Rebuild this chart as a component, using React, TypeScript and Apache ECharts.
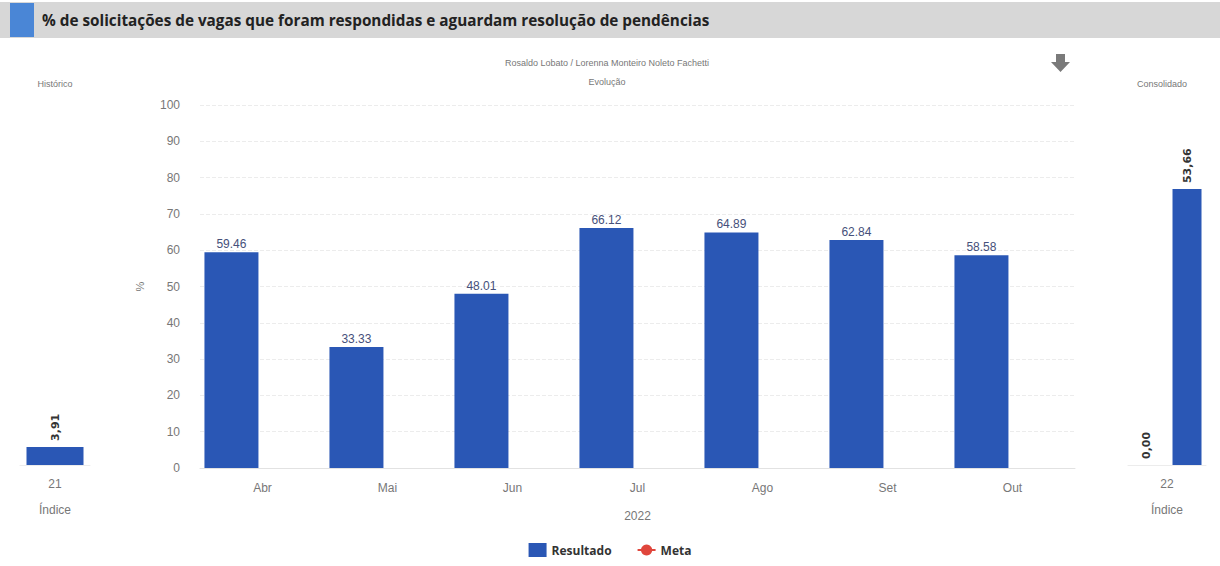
import React, { useEffect, useRef } from "react";
import * as echarts from "echarts";

const titleText = "% de solicitações de vagas que foram respondidas e aguardam resolução de pendências";
const subtitleText = "Rosaldo Lobato / Lorenna Monteiro Noleto Fachetti";
const months = ["Abr", "Mai", "Jun", "Jul", "Ago", "Set", "Out"];
const resultado = [59.46, 33.33, 48.01, 66.12, 64.89, 62.84, 58.58];
const meta: (number | null)[] = [null, null, null, null, null, null, null];
const yearLabel = "2022";
const histCategories = ["21"];
const histValues = [3.91];
const consCategories = ["22"];
const consMeta = [0];
const consValues = [53.66];

const BLUE = "#2a57b5";
const RED = "#e0463c";

export default function App() {
  const ref = useRef<HTMLDivElement>(null);
  useEffect(() => {
    if (!ref.current) return;
    const chart = echarts.init(ref.current, undefined, { renderer: "svg" });
    const sideLabel = {
      show: true,
      position: "top" as const,
      rotate: 90,
      align: "left" as const,
      verticalAlign: "middle" as const,
      distance: 6,
      color: "#333",
      fontSize: 11,
      fontWeight: "bold" as const,
      fontFamily: "DejaVu Sans",
      formatter: (p: any) => Number(p.value).toFixed(2).replace(".", ","),
    };
    const sideXAxis = (gridIndex: number, data: string[]) => ({
      type: "category" as const,
      gridIndex,
      data,
      axisLine: { show: true, lineStyle: { color: "#ececec" } },
      axisTick: { show: false },
      axisLabel: { color: "#777", fontSize: 12, margin: 13, fontFamily: "Liberation Sans" },
      name: "Índice",
      nameLocation: "middle" as const,
      nameGap: 39,
      nameTextStyle: { color: "#777", fontSize: 12, fontFamily: "Liberation Sans" },
    });
    chart.setOption({
      animation: false,
      textStyle: { fontFamily: "Liberation Sans" },
      graphic: [
        { type: "rect", shape: { x: 0, y: 2, width: 1220, height: 36 }, style: { fill: "#d7d7d7" } },
        { type: "rect", shape: { x: 10, y: 3, width: 24, height: 34 }, style: { fill: "#4a86d6" } },
        {
          type: "text", x: 42, y: 20,
          style: { text: titleText, fontSize: 15.3, fontWeight: "bold", fontFamily: "Open Sans", fill: "#222", verticalAlign: "middle" },
        },
        {
          type: "text", x: 607, y: 63,
          style: { text: subtitleText, fontSize: 9, fill: "#777", align: "center", verticalAlign: "middle", fontFamily: "Liberation Sans" },
        },
        {
          type: "text", x: 607, y: 82,
          style: { text: "Evolução", fontSize: 9, fill: "#777", align: "center", verticalAlign: "middle", fontFamily: "Liberation Sans" },
        },
        {
          type: "text", x: 55, y: 84,
          style: { text: "Histórico", fontSize: 9, fill: "#777", align: "center", verticalAlign: "middle", fontFamily: "Liberation Sans" },
        },
        {
          type: "text", x: 1162, y: 84,
          style: { text: "Consolidado", fontSize: 9, fill: "#777", align: "center", verticalAlign: "middle", fontFamily: "Liberation Sans" },
        },
        {
          type: "polygon",
          shape: { points: [[1056, 54], [1065, 54], [1065, 62], [1070, 62], [1060.5, 72], [1051, 62], [1056, 62]] },
          style: { fill: "#7a7a7a" },
        },
      ],
      legend: {
        data: [
          { name: "Resultado", icon: "rect", itemStyle: { color: BLUE } },
          { name: "Meta" },
        ],
        left: "center",
        top: 538,
        itemWidth: 18,
        itemHeight: 14,
        itemGap: 25,
        textStyle: { color: "#333", fontSize: 12, fontWeight: "bold", fontFamily: "Open Sans" },
      },
      grid: [
        { left: 20, width: 70, top: 105, height: 360 },
        { left: 200, width: 875, top: 105, height: 363 },
        { left: 1128, width: 78, top: 105, height: 360 },
      ],
      xAxis: [
        sideXAxis(0, histCategories),
        {
          type: "category",
          gridIndex: 1,
          data: months,
          axisLine: { show: true, lineStyle: { color: "#e2e2e2" } },
          axisTick: { show: false },
          axisLabel: { color: "#777", fontSize: 12, margin: 14 },
          name: yearLabel,
          nameLocation: "middle",
          nameGap: 42,
          nameTextStyle: { color: "#777", fontSize: 12 },
        },
        sideXAxis(2, consCategories),
      ],
      yAxis: [
        { type: "value", gridIndex: 0, min: 0, max: 78, show: false },
        {
          type: "value",
          gridIndex: 1,
          min: 0,
          max: 100,
          interval: 10,
          axisLine: { show: false },
          axisTick: { show: false },
          axisLabel: { color: "#777", fontSize: 12, margin: 20 },
          splitLine: { show: true, lineStyle: { color: "#ececec", type: "dashed" } },
          name: "%",
          nameLocation: "middle",
          nameGap: 55,
          nameRotate: 90,
          nameTextStyle: { color: "#777", fontSize: 11 },
        },
        { type: "value", gridIndex: 2, min: 0, max: 70, show: false },
      ],
      series: [
        {
          name: "Resultado",
          type: "bar",
          xAxisIndex: 0,
          yAxisIndex: 0,
          data: histValues,
          barWidth: 57,
          itemStyle: { color: BLUE },
          label: sideLabel,
        },
        {
          name: "Resultado",
          type: "bar",
          xAxisIndex: 1,
          yAxisIndex: 1,
          data: resultado,
          barWidth: 54,
          barGap: "15%",
          itemStyle: { color: BLUE },
          label: {
            show: true,
            position: "top",
            distance: 2,
            color: "#46507a",
            fontSize: 12,
            formatter: (p: any) => Number(p.value).toFixed(2),
          },
        },
        {
          name: "_spacer",
          type: "bar",
          xAxisIndex: 1,
          yAxisIndex: 1,
          data: meta,
          barWidth: 54,
          itemStyle: { color: "transparent" },
          silent: true,
        },
        {
          name: "Meta",
          type: "line",
          xAxisIndex: 1,
          yAxisIndex: 1,
          data: meta,
          symbol: "circle",
          symbolSize: 7,
          itemStyle: { color: RED },
          lineStyle: { color: RED, width: 2 },
        },
        {
          name: "Meta",
          type: "bar",
          xAxisIndex: 2,
          yAxisIndex: 2,
          data: consMeta,
          barWidth: 29,
          barGap: "38%",
          itemStyle: { color: BLUE },
          label: sideLabel,
        },
        {
          name: "Resultado",
          type: "bar",
          xAxisIndex: 2,
          yAxisIndex: 2,
          data: consValues,
          barWidth: 29,
          itemStyle: { color: BLUE },
          label: sideLabel,
        },
      ],
    });
    return () => chart.dispose();
  }, []);
  return (
    <div
      ref={ref}
      style={{ position: "fixed", left: 0, top: 0, width: 1220, height: 566, background: "#fff" }}
    />
  );
}
